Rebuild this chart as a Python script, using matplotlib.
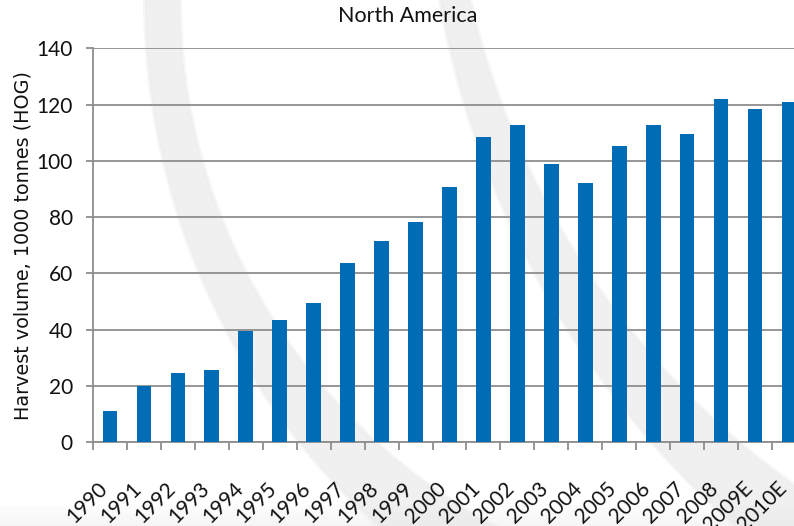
import numpy as np
import matplotlib
matplotlib.use("Agg")
import matplotlib.pyplot as plt
from matplotlib.transforms import ScaledTranslation

# Harvest volume, North America (1000 tonnes HOG)
years = ["1990", "1991", "1992", "1993", "1994", "1995", "1996", "1997", "1998",
         "1999", "2000", "2001", "2002", "2003", "2004", "2005", "2006", "2007",
         "2008", "2009E", "2010E"]
volume = [11.1, 20.0, 24.6, 25.7, 39.5, 43.4, 49.4, 63.8, 71.6, 78.4, 90.8,
          108.6, 112.7, 99.0, 92.0, 105.4, 112.7, 109.7, 121.9, 118.4, 120.8]
y_ticks = [0, 20, 40, 60, 80, 100, 120, 140]

W, H, DPI = 794, 526, 100
fig = plt.figure(figsize=(W / DPI, H / DPI), dpi=DPI, facecolor="white")

# faint decorative swooshes in the background (pixel space, y downward)
bg = fig.add_axes([0, 0, 1, 1], zorder=0)
bg.set_xlim(0, W)
bg.set_ylim(H, 0)
bg.axis("off")


def band(c1, r1, c2, r2, y0, y1):
    ys = np.linspace(y0, y1, 200)
    xl = c1[0] - np.sqrt(np.clip(r1 ** 2 - (ys - c1[1]) ** 2, 0, None))
    xr = c2[0] - np.sqrt(np.clip(r2 ** 2 - (ys - c2[1]) ** 2, 0, None))
    return np.concatenate([xl, xr[::-1]]), np.concatenate([ys, ys[::-1]])


for (c1, r1, c2, r2) in [((855, 0), 710, (777, 0), 597),
                         ((1341.8, -160.5), 916, (1271.9, -184.9), 823)]:
    xs, ys = band(c1, r1, c2, r2, -5, H + 5)
    bg.fill(xs, ys, color="#e2e2e2", alpha=0.5, lw=0)
    bg.plot(xs, ys, color="#eeeeee", lw=3, alpha=0.5)

# soft haze along the bottom edge
grad = np.linspace(0, 1, 60).reshape(-1, 1)
bg.imshow(grad, extent=(0, W, H, 505), cmap="Greys", vmin=-0.2, vmax=12,
          aspect="auto", alpha=0.8, zorder=0)
bg.set_xlim(0, W)
bg.set_ylim(H, 0)

# main chart axes
left, bottom, top = 93, 442, 48.5
right = 93 + 21 * 33.95
ax = fig.add_axes([left / W, (H - bottom) / H, (right - left) / W, (bottom - top) / H],
                  zorder=1)
ax.patch.set_alpha(0)

x = np.arange(len(years))
ax.bar(x, volume, width=0.433, color="#006CB5", zorder=3)

ax.set_xlim(-0.5, len(years) - 0.5)
ax.set_ylim(0, 140)
ax.set_yticks(y_ticks)
ax.yaxis.grid(True, color="#8e8e8e", lw=1.3, zorder=0)
ax.set_axisbelow(True)

for s in ["top", "right"]:
    ax.spines[s].set_visible(False)
for s in ["left", "bottom"]:
    ax.spines[s].set_color("#8e8e8e")
    ax.spines[s].set_linewidth(1.3)

grey = "#8e8e8e"
ax.tick_params(axis="y", length=5, width=1.3, color=grey, pad=9.5,
               labelsize=15, labelcolor="#111111")
for lbl in ax.get_yticklabels():
    lbl.set_family("Lato")

# category boundary ticks on x, labels at category centres
ax.set_xticks(np.arange(-0.5, len(years)), minor=True)
ax.set_xticks(x)
ax.set_xticklabels(years, rotation=45, ha="right", va="top",
                   rotation_mode="anchor", family="Lato", fontsize=15,
                   color="#111111")
ax.tick_params(axis="x", which="minor", length=5.8, width=1.3, color=grey)
ax.tick_params(axis="x", which="major", length=0, pad=26)
shift = ScaledTranslation(-13 / DPI, 0, fig.dpi_scale_trans)
for lbl in ax.get_xticklabels():
    lbl.set_transform(lbl.get_transform() + shift)

fig.text(407.5 / W, 1 - 16 / H, "North America", ha="center", va="center",
         family="Lato", fontsize=15.5, color="#111111")
fig.text(23 / W, 1 - 245 / H, "Harvest volume, 1000 tonnes (HOG)", rotation=90,
         ha="center", va="center", family="DejaVu Sans", fontsize=13.8,
         color="#111111")

fig.savefig("out.png", dpi=DPI, facecolor="white")
